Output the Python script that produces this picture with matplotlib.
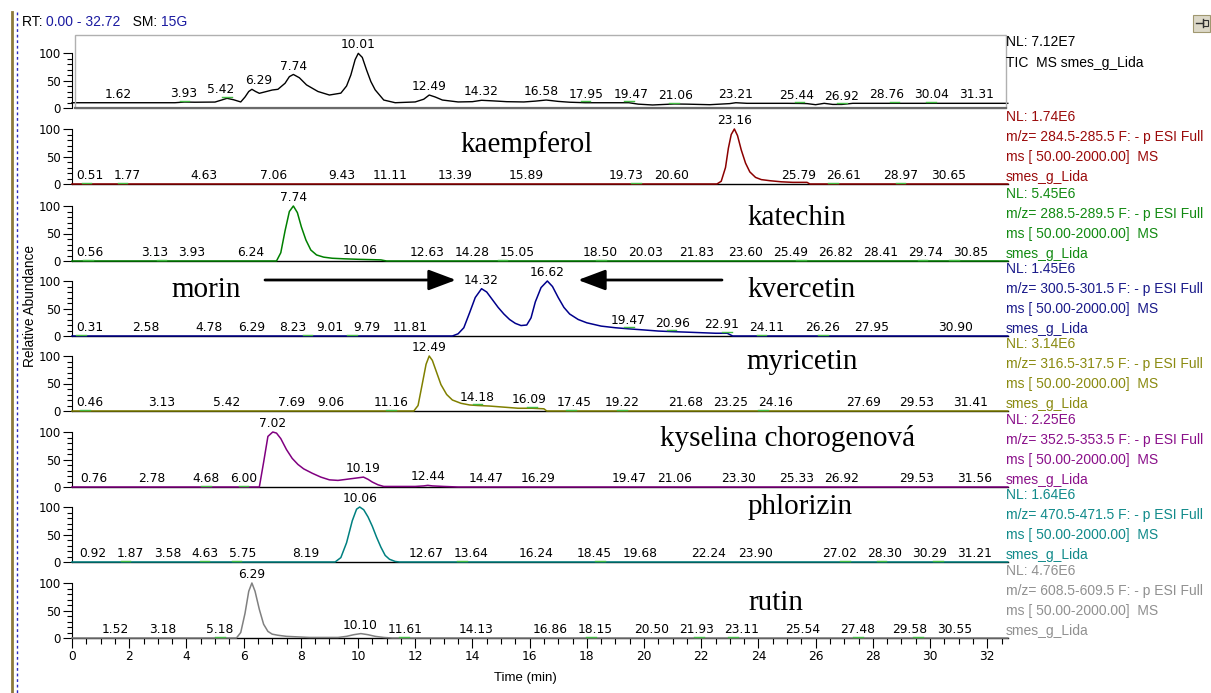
import numpy as np
import matplotlib
matplotlib.use("Agg")
import matplotlib.pyplot as plt
from matplotlib.patches import Rectangle, FancyArrowPatch
from matplotlib.lines import Line2D

plt.rcParams['font.family'] = ['Liberation Sans', 'DejaVu Sans']

W, H = 1211, 693

# ---------------- data ----------------
tic_t = [0, 3.6, 3.93, 4.3, 5.0, 5.2, 5.42, 5.65, 5.9, 6.05, 6.18, 6.29, 6.42, 6.55, 6.8, 7.0, 7.2, 7.45, 7.6, 7.74,
         7.95, 8.2, 8.6, 9.0, 9.4, 9.6, 9.75, 9.9, 10.01, 10.15, 10.3, 10.45, 10.6, 10.9, 11.3, 12.0, 12.3, 12.49, 12.7,
         12.95, 13.5, 14.0, 14.32, 14.7, 15.2, 15.8, 16.2, 16.58, 17.0, 17.4, 17.95, 18.7, 19.47, 19.8, 20.3, 21.06,
         21.5, 22.3, 23.0, 23.21, 23.6, 24.2, 25.0, 25.44, 25.7, 26.0, 26.3, 26.6, 26.92, 27.3, 28.0, 28.76, 29.4,
         30.04, 30.7, 31.31, 32.72]
tic_y = [9.6, 9.6, 10.8, 10.5, 10.8, 14, 17.6, 15, 11, 20, 30, 34, 30, 26.7, 30, 32.7, 34, 45, 57, 61,
         55, 42, 30, 23.6, 27, 40, 60, 88, 99.4, 92, 69, 48, 33, 14.5, 9.6, 11, 16, 23.6, 20,
         14.5, 11, 11.5, 14, 13, 11.5, 11, 12.5, 14.5, 12, 10.5, 9.6, 9.6, 9.6, 7, 5.5, 7.3,
         7, 6, 8, 9.6, 8.5, 8.5, 8.5, 8.3, 8, 6, 8.5, 6.5, 6.5, 8.5, 8.5, 8.5, 8.5,
         8.5, 8.5, 8.5, 8.5]

kae_t = [0, 22.55, 22.7, 22.85, 22.95, 23.05, 23.16, 23.27, 23.4, 23.55, 23.7, 23.9, 24.1, 24.4, 24.8, 25.2, 25.7, 25.8, 32.72]
kae_y = [0, 0, 5, 30, 65, 90, 100, 88, 62, 38, 22, 12, 8, 6, 4, 3, 3, 0, 0]

kat_t = [0, 7.15, 7.3, 7.45, 7.6, 7.74, 7.88, 8.02, 8.18, 8.35, 8.55, 8.8, 9.1, 9.5, 10.06, 10.8, 11.0, 32.72]
kat_y = [0, 0, 15, 55, 90, 100, 88, 62, 38, 20, 11, 7, 5, 4, 3, 2, 0, 0]

kve_t = [0, 13.3, 13.5, 13.7, 13.9, 14.1, 14.32, 14.5, 14.7, 14.9, 15.1, 15.3, 15.5, 15.7, 15.9, 16.05, 16.2, 16.4,
         16.62, 16.8, 17.0, 17.2, 17.4, 17.7, 18.0, 18.5, 19.0, 19.47, 20.0, 20.5, 20.96, 21.5, 22.0, 22.5, 22.91, 23.1, 32.72]
kve_y = [0, 0, 4, 15, 42, 70, 86, 80, 66, 52, 40, 30, 23, 19, 20, 33, 62, 88,
         100, 90, 70, 52, 40, 30, 24, 18, 15, 13, 11, 9, 8, 7, 6, 5, 5, 0, 0]

myr_t = [0, 11.95, 12.1, 12.25, 12.38, 12.49, 12.6, 12.75, 12.9, 13.1, 13.3, 13.6, 13.9, 14.18, 14.6, 15.1, 15.6, 16.09, 16.5, 16.6, 32.72]
myr_y = [0, 0, 10, 50, 85, 100, 92, 70, 48, 30, 20, 14, 11, 10, 9, 7, 5, 5, 4, 0, 0]

chl_t = [0, 6.55, 6.7, 6.85, 7.02, 7.15, 7.3, 7.5, 7.7, 7.9, 8.1, 8.4, 8.7, 9.0, 9.3, 9.6, 9.9, 10.19, 10.35, 10.5,
         10.7, 10.9, 11.2, 12.0, 12.3, 12.44, 12.6, 13.0, 13.5, 32.72]
chl_y = [0, 0, 45, 92, 100, 98, 88, 68, 52, 41, 33, 25, 18, 13, 12, 14, 16, 18, 14, 9,
         4, 1, 1, 1, 2, 3, 2, 1, 0, 0]

phl_t = [0, 9.2, 9.4, 9.6, 9.8, 9.95, 10.06, 10.2, 10.35, 10.5, 10.65, 10.8, 10.95, 11.1, 11.3, 11.45, 32.72]
phl_y = [0, 0, 8, 35, 75, 96, 100, 95, 82, 65, 45, 27, 12, 5, 1, 0, 0]

rut_t = [0, 5.75, 5.9, 6.05, 6.18, 6.29, 6.4, 6.55, 6.7, 6.85, 7.0, 7.2, 7.5, 7.9, 8.3, 8.8, 9.3, 9.6, 9.85, 10.1,
         10.35, 10.6, 10.9, 11.2, 32.72]
rut_y = [0, 0, 10, 45, 85, 100, 85, 52, 25, 12, 7, 5, 3, 2, 1, 1, 1, 3, 6, 8, 6, 3, 1, 0, 0]

tic_labels = [1.62, 3.93, 5.42, 6.29, 7.74, 10.01, 12.49, 14.32, 16.58, 17.95, 19.47, 21.06, 23.21, 25.44, 26.92, 28.76, 30.04, 31.31]
kae_labels = [0.51, 1.77, 4.63, 7.06, 9.43, 11.11, 13.39, 15.89, 19.73, 20.60, 23.16, 25.79, 26.61, 28.97, 30.65]
kat_labels = [0.56, 3.13, 3.93, 6.24, 7.74, 10.06, 12.63, 14.28, 15.05, 18.50, 20.03, 21.83, 23.60, 25.49, 26.82, 28.41, 29.74, 30.85]
kve_labels = [0.31, 2.58, 4.78, 6.29, 8.23, 9.01, 9.79, 11.81, 14.32, 16.62, 19.47, 20.96, 22.91, 24.11, 26.26, 27.95, 30.90]
myr_labels = [0.46, 3.13, 5.42, 7.69, 9.06, 11.16, 12.49, 14.18, 16.09, 17.45, 19.22, 21.68, 23.25, 24.16, 27.69, 29.53, 31.41]
chl_labels = [0.76, 2.78, 4.68, 6.00, 7.02, 10.19, 12.44, 14.47, 16.29, 19.47, 21.06, 23.30, 25.33, 26.92, 29.53, 31.56]
phl_labels = [0.92, 1.87, 3.58, 4.63, 5.75, 8.19, 10.06, 12.67, 13.64, 16.24, 18.45, 19.68, 22.24, 23.90, 27.02, 28.30, 30.29, 31.21]
rut_labels = [1.52, 3.18, 5.18, 6.29, 10.10, 11.61, 14.13, 16.86, 18.15, 20.50, 21.93, 23.11, 25.54, 27.48, 29.58, 30.55]

# peaks carrying a small green integration marker
tic_marks = [3.93, 5.42, 17.95, 19.47, 21.06, 25.44, 26.92, 28.76, 30.04]
kae_marks = [0.51, 1.77, 19.73, 26.61, 28.97]
kat_marks = [0.56, 3.13, 15.05, 18.50, 25.49, 29.74, 30.85]
kve_marks = [0.31, 8.23, 9.79, 19.47, 20.96, 22.91, 24.11, 26.26]
myr_marks = [0.46, 11.16, 14.18, 16.09, 17.45, 19.22, 24.16]
chl_marks = [4.68, 6.00]
phl_marks = [1.87, 4.63, 5.75, 13.64, 18.45, 27.02, 28.30, 30.29]
rut_marks = [5.18, 11.61, 18.15, 21.93, 23.11, 27.48, 29.58]

info = [
    ["NL: 7.12E7", "TIC  MS smes_g_Lida"],
    ["NL: 1.74E6", "m/z= 284.5-285.5 F: - p ESI Full", "ms [ 50.00-2000.00]  MS", "smes_g_Lida"],
    ["NL: 5.45E6", "m/z= 288.5-289.5 F: - p ESI Full", "ms [ 50.00-2000.00]  MS", "smes_g_Lida"],
    ["NL: 1.45E6", "m/z= 300.5-301.5 F: - p ESI Full", "ms [ 50.00-2000.00]  MS", "smes_g_Lida"],
    ["NL: 3.14E6", "m/z= 316.5-317.5 F: - p ESI Full", "ms [ 50.00-2000.00]  MS", "smes_g_Lida"],
    ["NL: 2.25E6", "m/z= 352.5-353.5 F: - p ESI Full", "ms [ 50.00-2000.00]  MS", "smes_g_Lida"],
    ["NL: 1.64E6", "m/z= 470.5-471.5 F: - p ESI Full", "ms [ 50.00-2000.00]  MS", "smes_g_Lida"],
    ["NL: 4.76E6", "m/z= 608.5-609.5 F: - p ESI Full", "ms [ 50.00-2000.00]  MS", "smes_g_Lida"],
]

names = [None, "kaempferol", "katechin", "kvercetin", "myricetin", "kyselina chorogenová", "phlorizin", "rutin"]

traces = [(tic_t, tic_y, tic_labels, tic_marks), (kae_t, kae_y, kae_labels, kae_marks),
          (kat_t, kat_y, kat_labels, kat_marks), (kve_t, kve_y, kve_labels, kve_marks),
          (myr_t, myr_y, myr_labels, myr_marks), (chl_t, chl_y, chl_labels, chl_marks),
          (phl_t, phl_y, phl_labels, phl_marks), (rut_t, rut_y, rut_labels, rut_marks)]

line_colors = ['#000000', '#8b0000', '#008000', '#00008b', '#808000', '#800080', '#008080', '#808080']
text_colors = ['#000000', '#9a0a0a', '#128a12', '#1a1a8a', '#8a8a10', '#8a108a', '#108a8a', '#909090']

# ---------------- layout (pixels) ----------------
y0s = [108, 184, 261, 336, 411, 487, 562, 638]
panel_h = 55
x_left = 72
px_per_min = 28.6
x_max = 32.72
LABEL_FONT = ['DejaVu Sans']


def fx(x):
    return x / W


def fy(y):
    return 1 - y / H


def spread(xs, ys, ws, hs, lo, hi, gap=10):
    cx = list(xs)
    n = len(cx)
    for _ in range(400):
        moved = False
        for i in range(n):
            for j in range(i + 1, n):
                if abs(ys[i] - ys[j]) >= hs:
                    continue
                need = (ws[i] + ws[j]) / 2 + gap
                d = cx[j] - cx[i]
                if abs(d) < need - 0.01:
                    ov = need - abs(d)
                    s = 1 if d >= 0 else -1
                    cx[i] -= s * ov / 2
                    cx[j] += s * ov / 2
                    moved = True
        for i in range(n):
            cx[i] = min(max(cx[i], lo + ws[i] / 2), hi - ws[i] / 2)
        if not moved:
            break
    return cx


fig = plt.figure(figsize=(W / 100, H / 100), dpi=100)
renderer = fig.canvas.get_renderer()

for i, y0 in enumerate(y0s):
    ax = fig.add_axes([fx(x_left), fy(y0), (x_max * px_per_min) / W, panel_h / H])
    ax.set_xlim(0, x_max)
    ax.set_ylim(0, 100)
    ax.patch.set_alpha(0)
    for s in ['top', 'right']:
        ax.spines[s].set_visible(False)
    ax.spines['left'].set_bounds(0, 100)
    ax.spines['left'].set_linewidth(0.8)
    ax.set_yticks([0, 50, 100])
    ax.set_yticks(np.arange(0, 101, 10), minor=True)
    ax.tick_params(axis='y', which='major', length=6.5, width=0.8, labelsize=8.5, pad=1.5, direction='out')
    ax.tick_params(axis='y', which='minor', length=3.5, width=0.8, direction='out')
    for tl in ax.get_yticklabels():
        tl.set_family(LABEL_FONT)
    t, y, labs, marks = traces[i]
    ax.plot(t, y, color=line_colors[i], lw=1.0 if i == 0 else 1.1, clip_on=False, zorder=3)

    # integration markers
    for mt in marks:
        my = float(np.interp(mt, t, y))
        ax.plot([mt - 0.17, mt + 0.17], [my + 2.5, my + 2.5], color='#44bb44', lw=1.0, clip_on=False, zorder=4)

    # peak labels with collision avoidance
    texts, xs, ys, ws = [], [], [], []
    for lt in labs:
        ly = float(np.interp(lt, t, y))
        tx = ax.annotate(f"{lt:.2f}", xy=(lt, ly), xytext=(0, 3.5), textcoords='offset points',
                         ha='center', va='baseline', fontsize=8.8, family=LABEL_FONT, annotation_clip=False)
        texts.append(tx)
        xs.append(x_left + lt * px_per_min)
        ys.append(ly * panel_h / 100.0)
        ws.append(tx.get_window_extent(renderer).width)
    cx = spread(xs, ys, ws, 10.5, x_left + 4, x_left + x_max * px_per_min - 4)
    for tx, c0, c1 in zip(texts, xs, cx):
        tx.set_position(((c1 - c0) * 0.72, 3.5))

    if i == 0:
        ax.spines['bottom'].set_visible(False)
    else:
        ax.spines['bottom'].set_color('black')
        ax.spines['bottom'].set_linewidth(1.0)
    if i < len(y0s) - 1:
        ax.set_xticks([])
    else:
        ax.set_xticks(np.arange(0, 33, 2))
        ax.set_xticks(np.arange(0, 32.72, 0.5), minor=True)
        ax.tick_params(axis='x', which='major', length=7, width=0.8, labelsize=8.8, pad=2)
        ax.tick_params(axis='x', which='minor', length=4.5, width=0.8)
        for tl in ax.get_xticklabels():
            tl.set_family(LABEL_FONT)

    # right side info text
    block = info[i]
    offs = [66, 45] if i == 0 else [67, 47, 27, 7]
    for txt, off in zip(block, offs):
        fig.text(fx(1006), fy(y0 - off), txt, color=text_colors[i], fontsize=10, va='center', ha='left')

# TIC frame
fig.add_artist(Rectangle((fx(75), fy(108)), fx(1006) - fx(75), fy(35) - fy(108),
                         transform=fig.transFigure, fill=False, edgecolor='#b0b0b0', lw=1.0))
fig.add_artist(Line2D([fx(75), fx(1006)], [fy(107.5), fy(107.5)], transform=fig.transFigure,
                      color='#6a6a6a', lw=1.6))

# compound names
name_pos = [None, (527, 145), (797, 218), (802, 290), (802, 362), (788, 438), (800, 507), (776, 603)]
for n, p in zip(names, name_pos):
    if n is None:
        continue
    fig.text(fx(p[0]), fy(p[1]), n, family='Liberation Serif', fontsize=21, ha='center', va='center')
fig.text(fx(206), fy(290), "morin", family='Liberation Serif', fontsize=21, ha='center', va='center')

# arrows
arrow_kw = dict(arrowstyle='-|>,head_length=1.2,head_width=0.45', lw=2.0, color='black', mutation_scale=14,
                shrinkA=0, shrinkB=0)
fig.add_artist(FancyArrowPatch((fx(265), fy(280)), (fx(456), fy(280)), transform=fig.transFigure, **arrow_kw))
fig.add_artist(FancyArrowPatch((fx(722), fy(280)), (fx(578), fy(280)), transform=fig.transFigure, **arrow_kw))

# axis titles
fig.text(fx(30), fy(306), "Relative Abundance", rotation=90, fontsize=9.8, ha='center', va='center')
fig.text(fx(525), fy(678), "Time (min)", fontsize=9.5, ha='center', va='center')

# header
hx = 22
for txt, col in [("RT: ", 'black'), ("0.00 - 32.72", '#1a1aa0'), ("   SM: ", 'black'), ("15G", '#1a1aa0')]:
    tt = fig.text(fx(hx), fy(22), txt, fontsize=10, color=col, ha='left', va='center')
    hx += tt.get_window_extent(renderer).width

# left decorative lines
fig.add_artist(Line2D([fx(11.5), fx(11.5)], [fy(12), fy(693)], transform=fig.transFigure,
                      color='#8c7a3c', lw=2.0))
fig.add_artist(Line2D([fx(16.5), fx(16.5)], [fy(12), fy(693)], transform=fig.transFigure,
                      color='#2a2ac0', lw=1.0, ls=(0, (2, 2))))

# top-right icon
fig.add_artist(Rectangle((fx(1193), fy(32)), fx(17), fy(0) - fy(17), transform=fig.transFigure,
                         facecolor='#dcd8c8', edgecolor='#a09870', lw=0.8))
fig.add_artist(Line2D([fx(1196), fx(1203)], [fy(23), fy(23)], transform=fig.transFigure, color='#303030', lw=1))
fig.add_artist(Line2D([fx(1203), fx(1203)], [fy(19), fy(27)], transform=fig.transFigure, color='#303030', lw=1))
fig.add_artist(Rectangle((fx(1203), fy(26)), fx(5), fy(0) - fy(6), transform=fig.transFigure,
                         fill=False, edgecolor='#303030', lw=0.8))

fig.savefig("out.png", dpi=100)
